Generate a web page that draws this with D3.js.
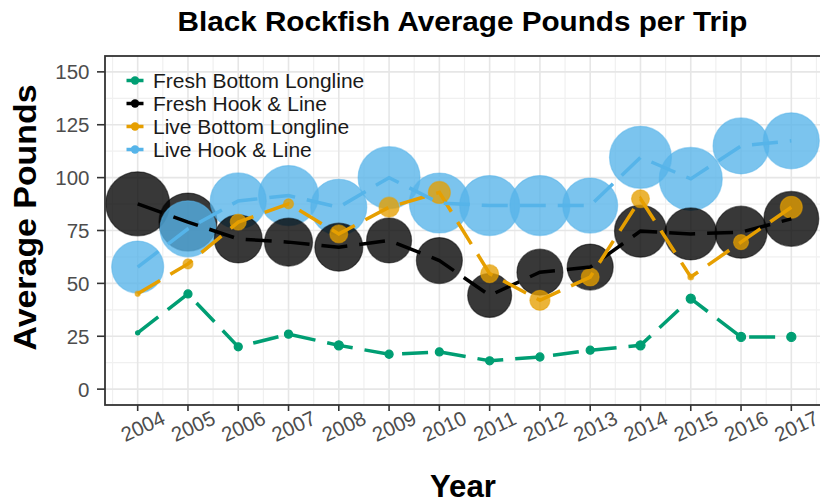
<!DOCTYPE html>
<html>
<head>
<meta charset="utf-8">
<script src="https://cdn.jsdelivr.net/npm/d3@7"></script>
<style>
  html, body { margin: 0; padding: 0; background: #fff; }
  svg { display: block; }
  text { font-family: "Liberation Sans", Arial, sans-serif; }
</style>
</head>
<body>
<svg id="chart" width="820" height="502"></svg>
<script>
// ---- data ----
const years = [2004, 2005, 2006, 2007, 2008, 2009, 2010, 2011, 2012, 2013, 2014, 2015, 2016, 2017];
const seriesNames = ["Fresh Bottom Longline", "Fresh Hook & Line", "Live Bottom Longline", "Live Hook & Line"];
const freshBottomLongline = [26.6, 45, 20, 26, 20.7, 16.5, 17.6, 13.4, 15.2, 18.4, 20.7, 42.8, 24.7, 24.7];
const freshHookLine      = [87.6, 79, 71, 69.5, 67.1, 70.3, 60.8, 44.3, 55.3, 57.7, 74.7, 73.4, 74.2, 80.5];
const liveBottomLongline = [45.1, 59.2, 79, 87.6, 73.4, 86, 93, 54.6, 42, 53, 90, 53, 69.5, 86];
const liveHookLine       = [57.7, 75.8, 89, 91.5, 86, 100, 88, 86.8, 86.8, 86.8, 109.6, 99.4, 115, 117.4];
// relative weight (number of trips) controlling bubble area
const freshBottomTrips = [4, 15, 15, 15, 19, 15, 15, 15, 15, 15, 19, 19, 19, 19];
const freshHookTrips   = [940, 772, 529, 529, 529, 465, 486, 444, 486, 486, 621, 621, 621, 694];
const liveBottomTrips  = [6, 23, 59, 23, 74, 92, 111, 74, 92, 74, 74, 8, 52, 111];
const liveHookTrips    = [621, 720, 720, 826, 720, 882, 826, 826, 826, 694, 882, 911, 720, 720];
const yTicks = [0, 25, 50, 75, 100, 125, 150];
const colors = ["#009E73", "#000000", "#E69F00", "#56B4E9"];

const valueArrays = [freshBottomLongline, freshHookLine, liveBottomLongline, liveHookLine];
const tripArrays = [freshBottomTrips, freshHookTrips, liveBottomTrips, liveHookTrips];

// ---- layout ----
const svg = d3.select("#chart");
const panel = { left: 105, right: 824, top: 56, bottom: 405 };

const x = d3.scaleLinear().domain([2003.35, 2017.65]).range([panel.left, panel.right]);
const y = d3.scaleLinear().domain([-7.5, 157.5]).range([panel.bottom, panel.top]);
const r = d3.scaleSqrt().domain([0, 1000]).range([0, 33]);

// panel background
svg.append("rect").attr("x", panel.left).attr("y", panel.top)
  .attr("width", panel.right - panel.left).attr("height", panel.bottom - panel.top)
  .attr("fill", "#fff");

const grid = svg.append("g");
// minor grid
const minorX = d3.range(2003.5, 2018, 1);
const minorY = d3.range(-12.5, 160, 25).filter(v => v > -7.5);
grid.selectAll(".mx").data(minorX).join("line")
  .attr("x1", d => x(d)).attr("x2", d => x(d)).attr("y1", panel.top).attr("y2", panel.bottom)
  .attr("stroke", "#f0f0f0").attr("stroke-width", 1.2);
grid.selectAll(".my").data(minorY).join("line")
  .attr("y1", d => y(d)).attr("y2", d => y(d)).attr("x1", panel.left).attr("x2", panel.right)
  .attr("stroke", "#f0f0f0").attr("stroke-width", 1.2);
// major grid
grid.selectAll(".Mx").data(years).join("line")
  .attr("x1", d => x(d)).attr("x2", d => x(d)).attr("y1", panel.top).attr("y2", panel.bottom)
  .attr("stroke", "#e6e6e6").attr("stroke-width", 1.6);
grid.selectAll(".My").data(yTicks).join("line")
  .attr("y1", d => y(d)).attr("y2", d => y(d)).attr("x1", panel.left).attr("x2", panel.right)
  .attr("stroke", "#e6e6e6").attr("stroke-width", 1.6);

// ---- points (drawn largest first) ----
const pts = [];
valueArrays.forEach((vals, si) => {
  vals.forEach((v, i) => pts.push({ s: si, year: years[i], v: v, n: tripArrays[si][i] }));
});
pts.sort((a, b) => b.n - a.n);
svg.append("g").selectAll("circle").data(pts).join("circle")
  .attr("cx", d => x(d.year)).attr("cy", d => y(d.v)).attr("r", d => r(d.n))
  .attr("fill", d => colors[d.s]).attr("fill-opacity", d => d.s === 0 ? 1 : 0.78)
  .attr("stroke", d => colors[d.s]).attr("stroke-opacity", d => d.s === 0 ? 1 : 0.5)
  .attr("stroke-width", 1.2);

// ---- lines ----
const line = d3.line().x(d => x(d[0])).y(d => y(d[1]));
const lineG = svg.append("g");
valueArrays.forEach((vals, si) => {
  lineG.append("path")
    .attr("d", line(years.map((yr, i) => [yr, vals[i]])))
    .attr("fill", "none").attr("stroke", colors[si]).attr("stroke-width", 3.5)
    .attr("stroke-dasharray", "26,12").attr("stroke-linecap", "butt");
});

// ---- legend ----
const legend = svg.append("g");
seriesNames.forEach((name, i) => {
  const cy = 80.5 + i * 23;
  legend.append("line").attr("x1", 126.5).attr("x2", 143.5).attr("y1", cy).attr("y2", cy)
    .attr("stroke", colors[i]).attr("stroke-width", 3.5);
  legend.append("circle").attr("cx", 135).attr("cy", cy).attr("r", 4.2).attr("fill", colors[i]);
  legend.append("text").attr("x", 153).attr("y", cy).attr("dy", "0.36em")
    .attr("font-size", 21).attr("fill", "#1a1a1a").text(name);
});

// ---- panel border ----
svg.append("rect").attr("x", panel.left).attr("y", panel.top)
  .attr("width", panel.right - panel.left).attr("height", panel.bottom - panel.top)
  .attr("fill", "none").attr("stroke", "#333").attr("stroke-width", 1.8);

// ---- axes ----
const yAxis = svg.append("g");
yAxis.selectAll("line").data(yTicks).join("line")
  .attr("x1", 97).attr("x2", panel.left).attr("y1", d => y(d)).attr("y2", d => y(d))
  .attr("stroke", "#333").attr("stroke-width", 1.6);
yAxis.selectAll("text").data(yTicks).join("text")
  .attr("x", 89.5).attr("y", d => y(d)).attr("dy", "0.36em").attr("text-anchor", "end")
  .attr("font-size", 20.5).attr("fill", "#4d4d4d").text(d => d);

const xAxis = svg.append("g");
xAxis.selectAll("line").data(years).join("line")
  .attr("x1", d => x(d)).attr("x2", d => x(d)).attr("y1", panel.bottom).attr("y2", panel.bottom + 6)
  .attr("stroke", "#333").attr("stroke-width", 1.6);
xAxis.selectAll("text").data(years).join("text")
  .attr("transform", d => `translate(${x(d) + 5},${426}) rotate(-25)`)
  .attr("text-anchor", "middle").attr("dy", "0.36em")
  .attr("font-size", 20.5).attr("fill", "#4d4d4d").text(d => d);

// ---- titles ----
svg.append("text").attr("x", 462.5).attr("y", 30.5).attr("text-anchor", "middle")
  .attr("font-size", 28).attr("font-weight", "bold").attr("fill", "#000")
  .attr("textLength", 570).attr("lengthAdjust", "spacingAndGlyphs")
  .text("Black Rockfish Average Pounds per Trip");
svg.append("text").attr("x", 463).attr("y", 497).attr("text-anchor", "middle")
  .attr("font-size", 30.5).attr("font-weight", "bold").attr("fill", "#000")
  .attr("textLength", 66).attr("lengthAdjust", "spacingAndGlyphs").text("Year");
svg.append("text").attr("transform", "translate(35.5,217.5) rotate(-90)").attr("text-anchor", "middle")
  .attr("font-size", 32).attr("font-weight", "bold").attr("fill", "#000")
  .attr("textLength", 266).attr("lengthAdjust", "spacingAndGlyphs").text("Average Pounds");
</script>
</body>
</html>
